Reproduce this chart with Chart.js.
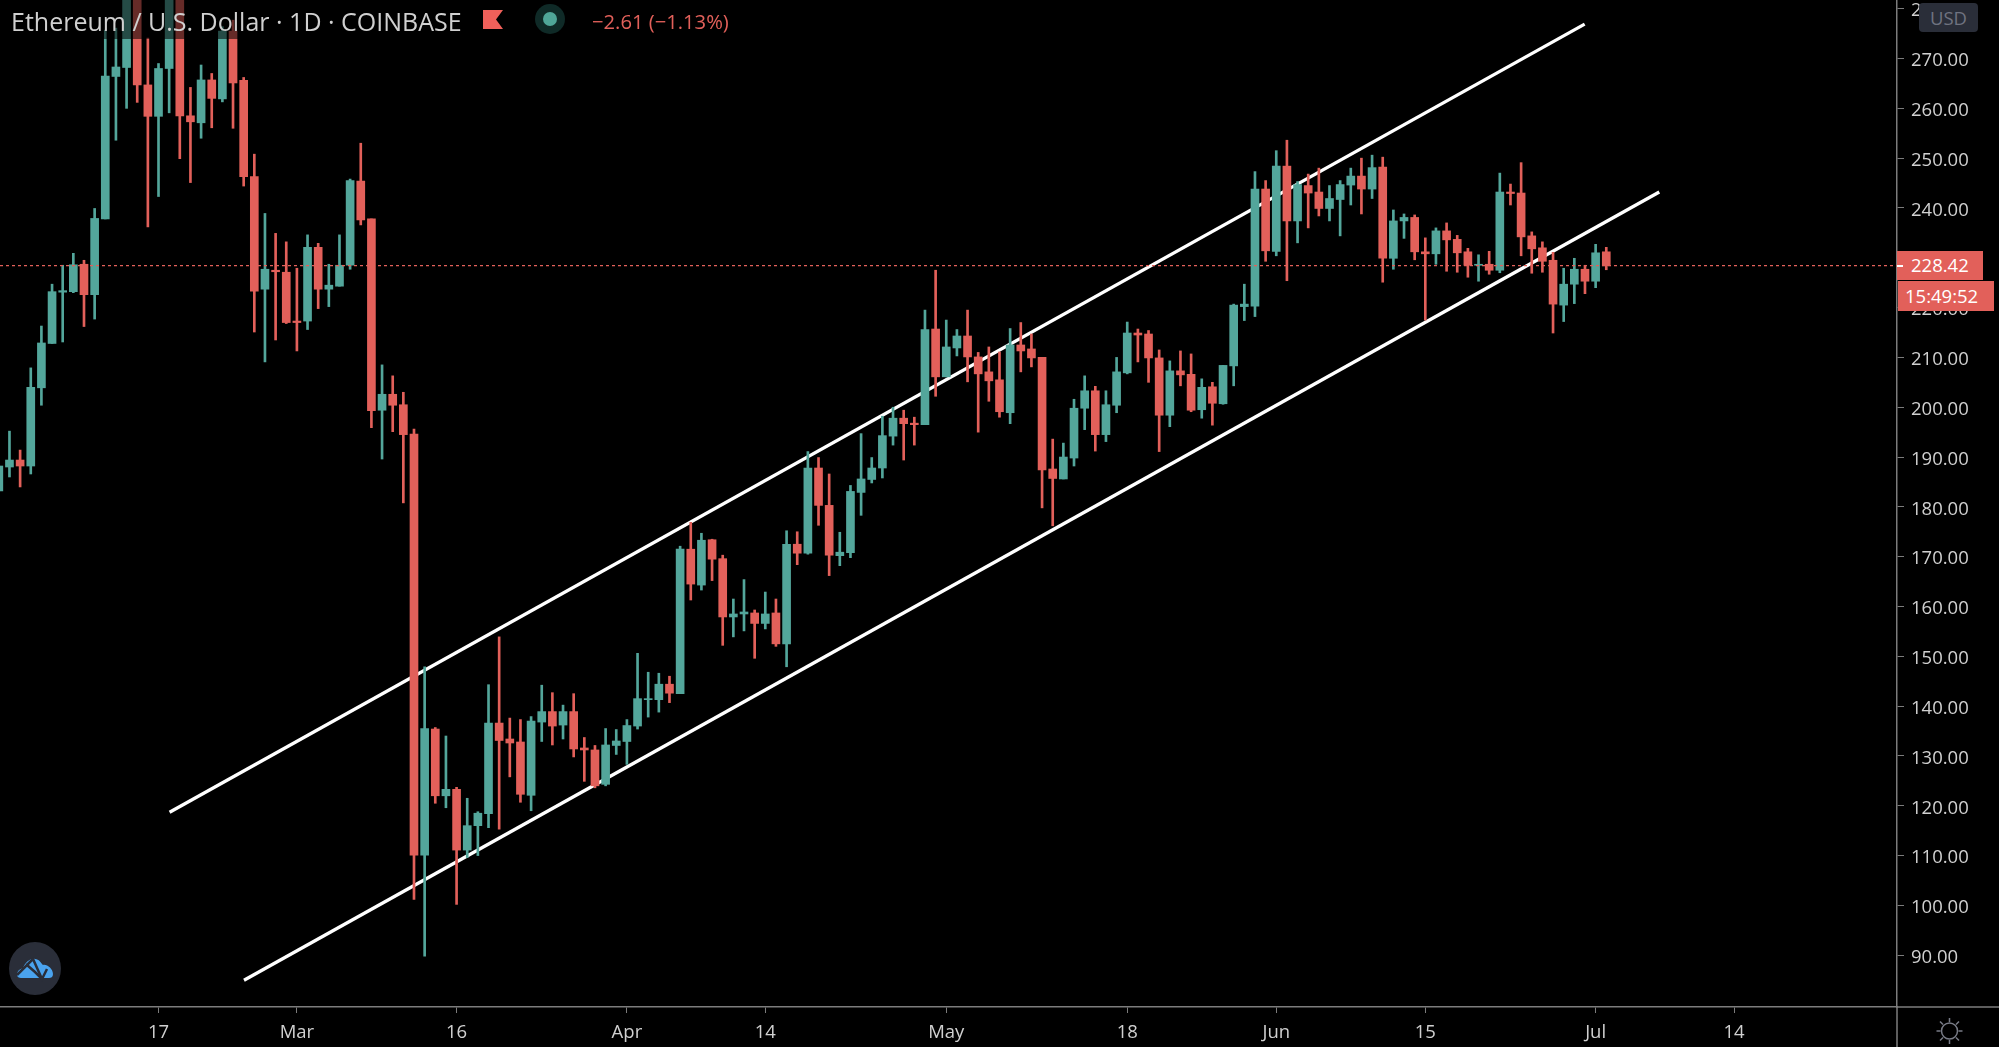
<!DOCTYPE html>
<html>
<head>
<meta charset="utf-8">
<title>Ethereum / U.S. Dollar</title>
<script src="https://cdn.jsdelivr.net/npm/chart.js@4/dist/chart.umd.js"></script>
<style>
html,body{margin:0;padding:0;background:#000;overflow:hidden;}
body{width:1999px;height:1047px;position:relative;font-family:"Open Sans",sans-serif;}
canvas{position:absolute;left:0;top:0;}
.over{position:absolute;white-space:nowrap;}
#band{left:0;top:0;width:745px;height:39px;background:rgba(0,0,0,.55);}
#name{left:11px;top:3px;font-size:25px;line-height:36px;color:#d0d0d0;}
#change{left:592px;top:5px;font-size:20.2px;line-height:32px;color:#e2605a;}
#usd{left:1919px;top:3px;width:59px;height:29px;line-height:29px;text-align:center;background:#2a2e39;border-radius:4px;color:#6f7380;font-size:18.5px;}
.tag{background:#e2605a;color:#fff;font-size:18.5px;text-align:left;}
#price{left:1897px;top:251px;width:86px;height:29px;line-height:27px;text-indent:14px;}
#timer{left:1898px;top:281px;width:96px;height:30px;line-height:30px;text-indent:7px;}
#dash{left:1897px;top:265px;width:6px;height:1.5px;background:#fff;}
</style>
</head>
<body>
<canvas id="myChart" width="1999" height="1047"></canvas>

<div class="over" id="band"></div>
<div class="over" id="name">Ethereum / U.S. Dollar · 1D · COINBASE</div>
<svg class="over" style="left:483px;top:10px" width="20" height="20"><path d="M0 0H20L13 9.5L20 19H0Z" fill="#f0605a"/></svg>
<svg class="over" style="left:535px;top:4px" width="30" height="30"><circle cx="15" cy="15" r="15" fill="#0f2a27"/><circle cx="15" cy="15" r="7" fill="#4fa597"/></svg>
<div class="over" id="change">−2.61 (−1.13%)</div>
<div class="over" id="usd">USD</div>
<div class="over tag" id="price">228.42</div>
<div class="over tag" id="timer">15:49:52</div>
<div class="over" id="dash"></div>
<svg class="over" style="left:9px;top:942px" width="52" height="53" viewBox="0 0 52 53">
<ellipse cx="26" cy="26.5" rx="26" ry="26.5" fill="#2a2e39"/>
<path d="M8 33C8 28 12 27 14 26C16 21 21 16 26 17C30 17 32 21 34 23C38 22 44 27 44 32C44 35 42 36 40 36H12C10 36 8 35 8 33Z" fill="#4aa3ee"/>
<path d="M8 33L18 23L26 30L33 37" stroke="#2a2e39" stroke-width="2.5" fill="none"/>
<path d="M18 23L24 17L33 37L38 27" stroke="#2a2e39" stroke-width="2.5" fill="none"/>
</svg>
<svg class="over" style="left:1933px;top:1015px" width="33" height="33" viewBox="0 0 33 33" stroke="#787b86" stroke-width="1.5" fill="none">
<circle cx="16.5" cy="16" r="8"/>
<path d="M16.5 3V7M16.5 25V29M3.5 16H7.5M25.5 16H29.5M7 6.5L10 9.5M23 22.5L26 25.5M26 6.5L23 9.5M10 22.5L7 25.5"/>
</svg>

<script>
// days counted from 1 Mar 2020, one candle a day
var firstDay = -28;
var opens = [
183.2,188.0,189.4,188.2,203.9,212.8,223.1,223.2,228.7,222.6,
237.8,266.4,268.2,284,264.7,258.4,268.0,284,258.5,257.1,
265.7,261.9,275.5,265.6,246.3,223.7,227.5,227.1,217.3,217.3,
232.1,223.7,224.3,228.5,245.4,237.8,199.4,202.6,200.5,194.6,
110.1,135.4,122.0,123.3,111.1,116.0,118.4,136.6,133.4,132.8,
122.1,136.8,138.9,136.2,138.9,131.6,131.2,124.3,132.1,132.9,
136.0,141.3,141.3,144.4,142.5,171.5,164.3,173.4,169.6,157.9,
158.5,158.7,156.6,158.7,152.5,172.5,170.7,187.8,180.3,170.2,
170.8,182.9,185.5,187.8,194.2,197.8,196.8,196.5,215.7,206.1,
211.9,214.3,210.1,207.1,205.5,198.9,212.5,211.7,210.0,187.6,
185.6,189.8,199.8,203.3,194.5,200.4,206.9,214.9,214.7,209.9,
198.4,207.3,206.6,199.5,204.1,200.7,208.3,220.2,220.3,243.8,
231.3,248.4,237.4,244.5,243.2,239.9,241.7,244.6,246.4,243.8,
248.2,229.9,237.4,238.1,231.2,230.8,235.4,233.7,231.2,228.5,
228.7,227.5,243.2,243.0,234.4,232.0,229.5,220.5,224.7,227.7,
225.3,231.2];
var highs = [
188.2,195.2,191.4,207.9,216.3,224.7,228.5,230.9,229.5,239.9,
275.7,276.1,286,286,274.1,269.0,286,286,264.2,268.7,
267.0,276.4,277.7,266.2,250.8,238.9,234.9,233.2,227.9,234.6,
232.9,228.7,234.6,245.8,253.0,237.8,208.5,206.3,203.0,195.6,
147.9,135.7,134.0,123.7,121.5,118.8,144.3,153.9,137.6,137.3,
137.9,144.2,142.7,140.2,142.5,133.7,132.1,135.5,135.3,137.3,
150.6,146.8,146.6,146.0,172.1,176.9,174.7,173.5,170.3,161.5,
165.4,159.3,162.9,161.5,175.2,175.0,191.1,189.9,186.6,174.9,
184.3,194.7,189.9,198.2,200.0,199.4,198.0,219.5,227.5,217.5,
215.6,219.5,211.0,212.1,211.1,215.8,217.0,214.7,210.0,193.6,
192.8,201.6,206.3,204.2,203.3,210.0,217.1,215.7,215.4,211.5,
209.3,211.3,210.7,205.7,205.0,208.4,220.7,224.7,247.3,245.5,
251.5,253.6,245.3,246.8,248.0,244.5,245.5,248.0,250.0,250.6,
250.2,239.6,238.8,238.6,234.0,236.0,237.0,234.5,231.9,230.6,
231.3,247.0,244.8,249.1,235.2,233.2,231.1,227.9,229.9,228.5,
232.7,232.1];
var lows = [
183.2,186.0,184.0,186.6,200.4,212.8,213.1,223.0,216.2,217.7,
237.8,253.6,260.0,261.2,236.2,242.3,259.1,249.9,245.1,254.0,
256.1,261.3,256.0,244.4,215.1,209.1,213.5,216.8,211.3,215.6,
219.8,220.2,224.3,227.7,236.6,195.9,189.6,195.1,180.8,101.2,
89.8,120.5,119.6,100.2,109.6,110.0,115.6,115.3,125.8,120.7,
119.0,132.9,132.2,133.4,129.8,124.9,123.6,124.0,130.3,128.3,
135.4,137.8,138.8,140.7,142.5,161.3,163.3,165.2,152.2,153.9,
155.1,149.6,155.5,152.0,147.9,168.4,170.5,176.3,166.2,168.2,
169.8,178.3,184.8,185.8,192.4,189.4,192.4,196.5,202.2,206.1,
210.3,205.1,195.0,201.2,198.0,196.7,207.1,208.1,179.8,176.2,
185.6,188.2,195.5,191.2,193.1,198.9,206.7,209.1,205.0,191.1,
196.1,204.3,199.1,197.8,196.4,200.6,204.3,217.4,218.2,229.3,
230.4,225.4,233.0,236.0,238.4,237.4,234.4,240.6,238.8,241.9,
225.1,227.7,233.9,229.6,217.5,228.7,227.3,227.1,226.1,225.3,
226.7,227.0,240.6,230.4,226.9,227.1,214.9,217.2,220.8,222.8,
224.0,227.6];
var closes = [
188.2,189.4,188.2,204.0,212.9,223.2,223.4,228.6,222.6,237.9,
266.5,268.3,284,264.7,258.4,268.0,284,258.5,257.3,265.7,
262.0,275.5,265.1,246.3,223.3,227.7,227.2,217.0,217.0,232.1,
223.7,224.5,228.5,245.5,237.6,199.3,202.6,200.4,194.5,110.1,
135.5,122.0,123.3,111.1,116.0,118.5,136.6,133.1,132.6,122.3,
137.0,138.9,136.0,138.9,131.4,131.2,124.0,132.2,133.0,136.1,
141.5,141.5,144.4,142.6,171.5,164.5,173.3,169.5,157.9,158.5,
158.9,156.6,158.5,152.5,172.5,170.7,187.8,180.3,170.3,170.9,
183.1,185.6,187.8,194.3,197.8,196.7,196.5,215.6,206.1,212.1,
214.3,210.1,206.7,205.3,199.1,212.5,211.3,209.9,187.4,185.7,
190.0,199.8,203.3,194.5,200.5,207.1,214.9,214.5,209.9,198.4,
207.3,206.5,199.4,204.0,200.8,208.4,220.5,220.7,243.8,231.4,
248.4,237.4,244.7,243.0,239.9,241.9,244.7,246.4,243.8,248.1,
229.9,237.4,238.1,231.2,230.8,235.4,233.6,231.0,228.5,228.7,
227.5,243.2,242.9,234.2,231.8,229.3,220.7,224.7,227.7,225.3,
231.0,228.4];

var xTickDays = [-13,0,15,31,44,61,78,92,106,122,135];
var xTickLabels = ['17','Mar','16','Apr','14','May','18','Jun','15','Jul','14'];
var yTickValues = [90,100,110,120,130,140,150,160,170,180,190,200,210,220,230,240,250,260,270,280];

var upperDays = [-11.96,120.97];
var upperPrices = [118.7,276.9];
var lowerDays = [-4.97,127.98];
var lowerPrices = [84.96,243.2];
var lastPrice = 228.42;

var xMin = -27.89, xMax = 150.31;
var yMin = 79.6, yMax = 281.75;

var green = '#53a69b', red = '#e2605a', axisColor = '#7c7c7c', textColor = '#d0d0d0';

var bodies = [], wicks = [], colors = [];
for(var i = 0; i < opens.length; i++){
    var day = firstDay + i;
    bodies.push({x: day, y: [opens[i], closes[i]]});
    wicks.push({x: day, y: [lows[i], highs[i]]});
    colors.push(closes[i] >= opens[i] ? green : red);
}
function linePoints(days, prices){
    return days.map(function(d, n){ return {x: d, y: prices[n]}; });
}

// the axis lines run on past the plot into the corner
var axisCorner = {
    id: 'axisCorner',
    afterDraw: function(chart){
        var a = chart.chartArea, ctx = chart.ctx;
        ctx.save();
        ctx.strokeStyle = axisColor;
        ctx.lineWidth = 1.5;
        ctx.beginPath();
        ctx.moveTo(a.right, a.bottom);
        ctx.lineTo(chart.width, a.bottom);
        ctx.moveTo(a.right, a.bottom);
        ctx.lineTo(a.right, chart.height);
        ctx.stroke();
        ctx.restore();
    }
};

var graph = new Chart(document.getElementById('myChart'), {
    type: 'bar',
    data: {
        datasets: [
            {data: bodies, backgroundColor: colors, barThickness: 8, grouped: false, order: 1},
            {data: wicks, backgroundColor: colors, barThickness: 2, grouped: false, order: 2},
            {type: 'line', data: linePoints(upperDays, upperPrices), borderColor: '#fff', borderWidth: 3.3, pointRadius: 0, order: 3},
            {type: 'line', data: linePoints(lowerDays, lowerPrices), borderColor: '#fff', borderWidth: 3.3, pointRadius: 0, order: 3},
            {type: 'line', data: linePoints([xMin, xMax], [lastPrice, lastPrice]), borderColor: red, borderWidth: 1.3, borderDash: [3, 3], pointRadius: 0, order: 0}
        ]
    },
    options: {
        responsive: false,
        animation: false,
        events: [],
        layout: {padding: 0},
        plugins: {legend: {display: false}, tooltip: {enabled: false}, title: {display: false}},
        scales: {
            x: {
                type: 'linear',
                min: xMin,
                max: xMax,
                offset: false,
                grid: {display: true, offset: false, drawOnChartArea: false, tickLength: 6, tickColor: axisColor},
                border: {color: axisColor, width: 1.5},
                ticks: {
                    autoSkip: false,
                    maxRotation: 0,
                    padding: 9,
                    color: textColor,
                    font: {family: 'Open Sans', size: 18.5},
                    callback: function(v){ return xTickLabels[xTickDays.indexOf(v)]; }
                },
                afterBuildTicks: function(s){ s.ticks = xTickDays.map(function(v){ return {value: v}; }); },
                afterFit: function(s){ s.height = 40; s.paddingLeft = 0; s.paddingRight = 0; }
            },
            y: {
                position: 'right',
                min: yMin,
                max: yMax,
                grid: {display: true, drawOnChartArea: false, tickLength: 7, tickColor: axisColor},
                border: {color: axisColor, width: 1.5},
                ticks: {
                    autoSkip: false,
                    padding: 7,
                    labelOffset: 2.5,
                    color: textColor,
                    font: {family: 'Open Sans', size: 18.5},
                    callback: function(v){ return v.toFixed(2); }
                },
                afterBuildTicks: function(s){ s.ticks = yTickValues.map(function(v){ return {value: v}; }); },
                afterFit: function(s){ s.width = 102; s.paddingTop = 0; s.paddingBottom = 0; }
            }
        }
    },
    plugins: [axisCorner]
});
</script>
</body>
</html>
